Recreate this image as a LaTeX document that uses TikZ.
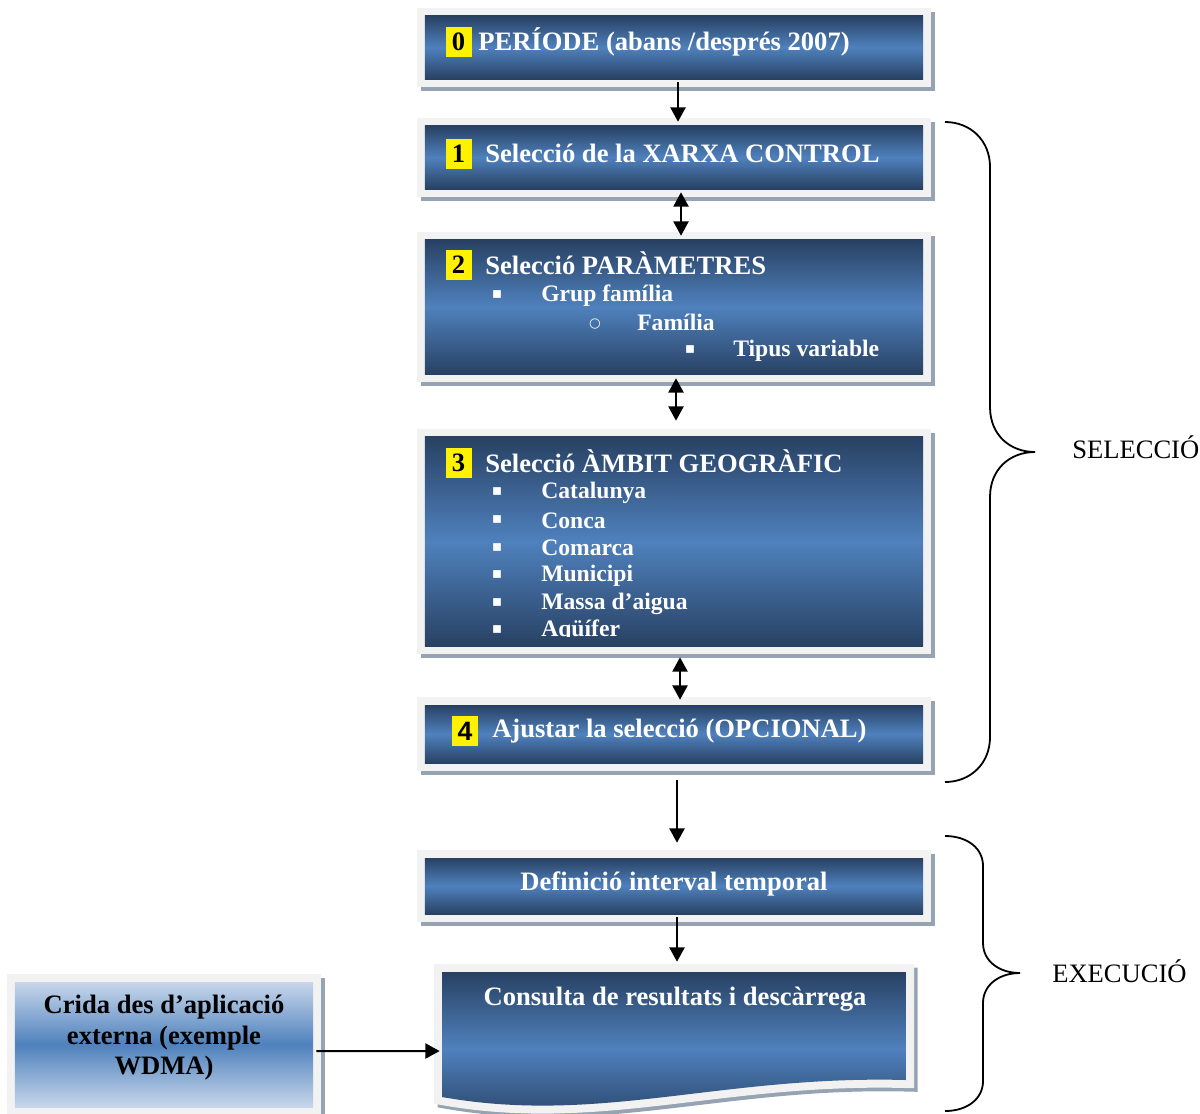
\documentclass[tikz,border=0pt]{standalone}
\usepackage{fontspec}
\setmainfont{Liberation Serif}
\newfontfamily\symfont{DejaVu Sans}
\newfontfamily\numsans{Liberation Sans}
\usepackage{tikz}
\usetikzlibrary{positioning,arrows.meta}

\definecolor{boxdark}{RGB}{40,65,99}
\definecolor{boxmid}{RGB}{79,129,189}
\definecolor{boxlight}{RGB}{200,215,235}
\definecolor{framegray}{RGB}{242,242,242}
\definecolor{shadowgray}{RGB}{149,163,178}

\newcommand{\bigfont}{\fontsize{18.9}{22}\selectfont}

\tikzset{
  boxframe/.style={preaction={fill=shadowgray, draw=shadowgray, line width=0.4cm,
      transform canvas={shift={(0.09cm,-0.09cm)}}},
    preaction={draw=framegray, line width=0.4cm}},
  stepbox/.style={rectangle, inner sep=0pt, minimum width=12.45cm, boxframe,
    top color=boxdark, bottom color=boxdark, middle color=boxmid},
  lightbox/.style={rectangle, inner sep=0pt, boxframe,
    top color=boxlight, bottom color=boxlight, middle color=boxmid},
  numbox/.style={fill=yellow, text=black, inner sep=0pt, minimum width=0.65cm,
    minimum height=0.75cm, font=\bigfont\bfseries},
  steptext/.style={anchor=west, inner sep=0pt, text=white, font=\bigfont\bfseries},
  itemtext/.style={steptext, font=\fontsize{16.8}{20}\selectfont\bfseries},
  bulletmark/.style={inner sep=0pt, text=white, font=\symfont\fontsize{11}{11}\selectfont},
  arr/.style={line width=0.05cm, -{Triangle[length=0.36cm, width=0.38cm]}},
  darr/.style={line width=0.05cm, {Triangle[length=0.36cm, width=0.38cm]}-{Triangle[length=0.36cm, width=0.38cm]}},
  brace/.style={line width=0.045cm},
  sidelabel/.style={anchor=west, inner sep=0pt, font=\bigfont}
}

\begin{document}
\begin{tikzpicture}[x=0.025cm, y=-0.025cm]
    \useasboundingbox (0,0) rectangle (1200,1113);

    % boxes of the selection
    \node[stepbox, minimum height=1.575cm] (b0) at (674,47.5) {};
    \node[stepbox, minimum height=1.575cm] (b1) at (674,157.5) {};
    \node[stepbox, minimum height=3.35cm] (b2) at (674,307) {};
    \node[stepbox, minimum height=5.225cm] (b3) at (674,541.5) {};
    \node[stepbox, minimum height=1.45cm] (b4) at (674,734) {};
    \node[stepbox, minimum height=1.4cm] (b5) at (674,886) {};

    % consulta box with wavy bottom
    \node[inner sep=0pt, minimum width=11.6cm, minimum height=3.2cm] (b6) at (674,1036) {};
    \shade[boxframe, top color=boxdark, bottom color=boxdark, middle color=boxmid]
        (442,972) -- (906,972) -- (906,1080) .. controls (720,1075) and (600,1125) .. (442,1097) -- cycle;

    % external call
    \node[lightbox, minimum width=7.45cm, minimum height=3.125cm] (lb) at (164,1044.5) {};

    % numbers and titles
    \node[numbox] (n0) at (458.5,42) {0};
    \node[steptext] (t0) at (478,42) {PERÍODE (abans /després 2007)};
    \node[numbox] (n1) at (458.5,153.5) {1};
    \node[steptext] (t1) at (485,153) {Selecció de la XARXA CONTROL};
    \node[numbox] (n2) at (458.5,265) {2};
    \node[steptext] (t2) at (485,263.5) {Selecció PARÀMETRES};
    \node[numbox] (n3) at (458.5,463) {3};
    \node[steptext] (t3) at (485,461.5) {Selecció ÀMBIT GEOGRÀFIC};
    \node[numbox, font=\numsans\bigfont\bfseries] (n4) at (465,731) {4};
    \node[steptext] (t4) at (492,731) {Ajustar la selecció (OPCIONAL)};

    % parameters
    \node[bulletmark] (s1) at (497,295) {▪};
    \node[itemtext] (u1) at (541,296) {Grup família};
    \node[bulletmark, font=\symfont\fontsize{9.5}{9.5}\selectfont] (s2) at (595,324) {○};
    \node[itemtext] (u2) at (637,322) {Família};
    \node[bulletmark] (s3) at (690,350) {▪};
    \node[itemtext] (u3) at (733,351) {Tipus variable};

    % geographic scope
    \begin{scope}
        \clip (425,430) rectangle (923,636);
        \foreach \place [count=\i from 0] in {Catalunya, Conca, Comarca, Municipi, Massa d’aigua, Aqüífer}{
            \node[bulletmark] (p\i) at (497,{492+27.6*\i}) {▪};
            \node[itemtext] (q\i) at (541,{493+27.6*\i}) {\place};
        }
    \end{scope}

    \node[steptext, anchor=center] (t5) at (674,884) {Definició interval temporal};
    \node[steptext, anchor=center] (t6) at (675,999) {Consulta de resultats i descàrrega};
    \node[align=center, inner sep=0pt, font=\fontsize{18.9}{21.7}\selectfont\bfseries] (tl) at (164,1038)
        {Crida des d’aplicació\\externa (exemple\\WDMA)};

    % arrows
    \draw[arr] ([xshift=0.1cm,yshift=-0.075cm]b0.south) -- ([xshift=0.1cm,yshift=0.1cm]b1.north);
    \draw[darr] ([xshift=0.175cm,yshift=-0.075cm]b1.south) -- ([xshift=0.175cm,yshift=0.1cm]b2.north);
    \draw[darr] ([xshift=0.05cm,yshift=-0.1cm]b2.south) -- ([xshift=0.05cm,yshift=0.4cm]b3.north);
    \draw[darr] ([xshift=0.15cm,yshift=-0.275cm]b3.south) -- ([xshift=0.15cm,yshift=0.125cm]b4.north);
    \draw[arr] ([xshift=0.075cm,yshift=-0.425cm]b4.south) -- ([xshift=0.075cm,yshift=0.375cm]b5.north);
    \draw[arr] ([xshift=0.075cm,yshift=-0.075cm]b5.south) -- ([xshift=0.075cm,yshift=0.25cm]b6.north);
    \draw[arr] ([xshift=0.075cm,yshift=-0.1625cm]lb.east) -- ([xshift=-0.05cm,yshift=-0.375cm]b6.west);

    % braces
    \draw[brace] (945,122) .. controls (970,122) and (990,140) .. (990,167) -- (990,407)
        .. controls (990,435) and (1010,452) .. (1035,452)
        .. controls (1010,452) and (990,469) .. (990,497) -- (990,737)
        .. controls (990,764) and (970,782) .. (945,782);
    \node[sidelabel] (l1) at (1072,447) {SELECCIÓ};
    \draw[brace] (945,836) .. controls (967,836) and (983,848) .. (983,866) -- (983,943)
        .. controls (983,961) and (999,973) .. (1020,973)
        .. controls (999,973) and (983,985) .. (983,1003) -- (983,1081)
        .. controls (983,1099) and (967,1111) .. (945,1111);
    \node[sidelabel] (l2) at (1052,971) {EXECUCIÓ};
\end{tikzpicture}
\end{document}
